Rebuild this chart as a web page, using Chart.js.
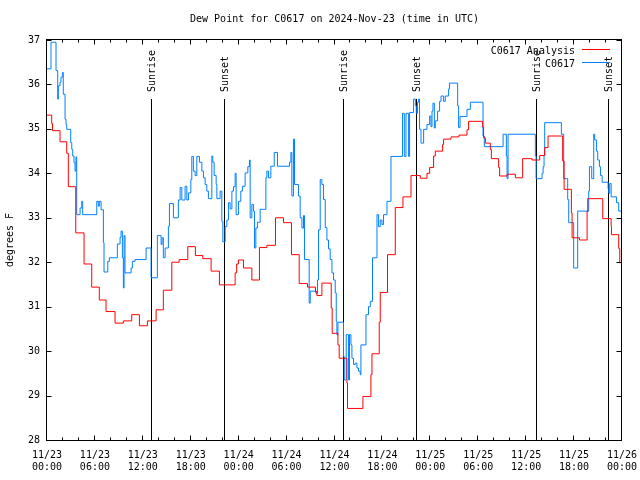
<!DOCTYPE html>
<html><head><meta charset="utf-8">
<script src="https://cdn.jsdelivr.net/npm/chart.js@4.4.1/dist/chart.umd.min.js"></script>
<style>html,body{margin:0;padding:0;background:#fff}canvas{display:block}</style>
</head><body>
<canvas id="c" width="640" height="480"></canvas>
<script>
// ---- data (hours since 2024-11-23 00:00 UTC) ----
const chartTitle = 'Dew Point for C0617 on 2024-Nov-23 (time in UTC)';
const yAxisTitle = 'degrees F';
const seriesNames = ['C0617 Analysis', 'C0617'];
const seriesColors = ['#ff0000', '#0080ff'];
const yMin = 28, yMax = 37;
const tickMonth = 11, tickStartDay = 23;
const sunEventHours = [13.07, 22.22, 37.12, 46.24, 61.18, 70.21];
const sunEventLabels = ['Sunrise', 'Sunset', 'Sunrise', 'Sunset', 'Sunrise', 'Sunset'];

const analysisHours = [0,0.59,0.69,1.63,2.47,2.67,3.60,4.64,5.60,6.55,7.39,8.52,9.56,10.61,11.57,12.57,13.66,14.57,15.63,16.54,17.63,18.58,19.51,20.55,21.59,23.56,23.75,23.97,24.60,25.65,26.60,27.53,28.61,29.61,30.61,31.58,32.62,33.62,33.80,34.42,35.59,35.71,36.43,36.59,37.56,37.63,39.56,40.56,40.69,41.60,41.73,42.64,43.61,44.57,45.58,46.74,47.58,47.91,48.41,48.62,49.54,49.66,50.59,51.59,52.59,52.79,54.55,54.67,54.89,55.51,55.64,56.55,56.68,57.61,58.65,59.56,60.74,61.69,62.32,62.74,64.57,64.75,65.66,65.75,66.67,67.63,67.71,69.59,70.64,70.68,71.59,71.72,72];
const analysisValues = [35.31,35.12,34.96,34.71,34.45,33.70,32.66,31.96,31.44,31.15,30.89,30.63,30.68,30.82,30.57,30.68,30.93,31.37,32.00,32.06,32.35,32.15,32.08,31.80,31.49,31.76,31.96,32.05,31.87,31.60,32.33,32.38,33.00,32.89,32.17,31.52,31.44,31.34,31.25,31.53,30.97,30.40,30.14,29.84,29.28,28.71,28.98,29.47,29.94,30.65,31.32,32.17,33.23,33.47,33.95,33.89,34.00,34.13,34.39,34.50,34.65,34.77,34.82,34.86,34.98,35.17,35.04,34.80,34.68,34.54,34.33,34.13,33.94,33.98,33.90,34.33,34.30,34.40,34.58,34.84,34.28,33.64,33.11,32.55,32.50,33.15,33.43,32.98,32.81,32.62,32.31,31.99,31.99];

const obsHours = [0,0.50,1.13,1.34,1.42,1.63,1.75,1.92,2.04,2.26,2.38,2.47,2.97,3.10,3.22,3.38,3.51,3.63,3.72,4.14,4.35,4.47,6.23,6.43,6.55,6.77,7.06,7.14,7.61,7.81,8.81,9.15,9.27,9.44,9.56,9.65,9.77,10.53,10.69,11.03,12.41,13.03,13.82,14.29,14.41,14.57,14.79,15.20,15.33,15.83,16.45,16.67,16.88,17.29,17.51,17.71,18.01,18.13,18.33,18.55,18.76,19.09,19.39,19.59,19.80,20.01,20.21,20.64,20.76,20.93,21.18,21.27,21.68,21.89,22.02,22.31,22.52,22.72,22.93,23.15,23.35,23.56,23.68,23.97,24.27,24.47,24.81,25.15,25.35,25.44,25.65,25.85,25.98,26.15,26.35,26.69,27.41,27.53,27.73,28.03,28.45,28.86,30.36,30.54,30.66,30.86,30.99,31.49,31.70,31.92,32.12,32.24,32.83,32.96,33.67,33.87,34.00,34.21,34.42,34.62,34.84,35.05,35.25,35.46,35.68,35.88,36.09,36.22,36.30,36.43,37.13,37.22,37.47,37.76,37.88,38.06,38.18,38.38,38.60,38.81,39.01,39.22,39.31,39.94,40.26,40.48,40.76,41.32,41.52,41.73,41.94,42.14,42.57,43.07,44.52,44.74,44.95,45.28,45.40,45.90,46.12,46.24,46.40,46.53,46.65,46.83,47.16,47.58,47.91,48.08,48.21,48.33,48.50,48.62,48.91,49.16,49.34,49.66,49.87,50.29,50.41,51.42,51.54,51.72,52.59,53.01,54.60,54.76,57.11,57.52,57.61,57.73,61.15,61.24,61.99,62.12,62.24,62.32,64.41,64.70,65.20,65.33,65.95,66.45,67.83,67.92,68.21,68.46,68.58,68.80,68.96,69.17,69.30,69.51,70.26,70.34,70.46,70.64,71.30,71.59,72];
const obsValues = [36.35,36.95,36.31,35.67,35.97,36.05,36.16,36.27,35.78,35.22,35.10,34.99,34.69,34.54,34.39,34.24,34.05,34.37,33.07,33.22,33.37,33.07,33.37,33.26,33.37,33.18,32.44,31.78,32.02,32.10,32.41,32.56,32.70,32.10,31.42,32.60,31.76,31.87,32.02,32.06,32.32,31.65,32.60,32.40,32.55,32.10,32.32,32.81,33.32,33.00,33.40,33.68,33.40,33.71,33.40,33.56,33.86,34.38,34.05,33.95,34.38,34.25,34.05,33.90,33.75,33.60,33.43,34.39,34.25,33.95,33.75,33.43,33.60,32.92,32.46,32.80,32.95,33.34,33.20,33.60,33.70,34.00,33.07,33.37,33.60,33.71,34.01,34.15,34.30,33.00,33.30,33.15,32.32,32.77,32.90,33.19,33.90,34.05,33.90,34.16,34.47,34.16,34.25,34.47,33.49,34.77,33.75,33.49,33.00,32.77,33.05,32.06,31.08,31.35,31.30,31.60,32.73,33.86,33.75,33.41,32.78,32.50,32.30,32.06,31.76,31.60,31.31,30.67,30.37,30.65,29.88,29.35,30.37,29.35,30.37,30.14,29.84,29.70,29.73,29.62,29.55,29.47,30.14,30.82,31.00,31.12,32.10,33.07,32.80,32.95,32.85,33.07,33.37,34.38,35.35,34.38,35.35,34.38,35.37,35.67,35.52,35.35,35.60,35.67,34.99,34.68,34.99,35.10,35.29,35.05,35.40,35.58,35.02,35.18,35.40,35.62,35.74,35.62,35.74,35.90,36.03,35.52,35.03,35.28,35.44,35.60,34.84,34.60,34.88,34.39,33.88,34.88,34.39,33.88,34.00,34.15,34.40,35.14,34.88,33.88,33.41,32.89,31.87,33.15,33.60,34.15,33.88,34.88,34.75,34.50,34.30,34.15,33.95,33.80,33.65,33.55,33.77,33.47,33.34,33.15,33.15];

// ---- build ----
const FONT = '"DejaVu Sans Mono", "Liberation Mono", monospace';
function toPoints(xs, ys) {
  const n = Math.min(xs.length, ys.length);
  const out = [];
  for (let i = 0; i < n; i++) out.push({ x: xs[i], y: ys[i] });
  return out;
}
function pad2(n) { return (n < 10 ? '0' : '') + n; }

const decor = {
  id: 'decor',
  beforeDatasetsDraw(chart) {
    const { ctx, chartArea: a, scales: { x } } = chart;
    ctx.save();
    ctx.strokeStyle = '#000';
    ctx.lineWidth = 1;
    ctx.fillStyle = '#000';
    ctx.font = '10px ' + FONT;
    for (let i = 0; i < sunEventHours.length; i++) {
      const px = Math.round(x.getPixelForValue(sunEventHours[i])) + 0.5;
      ctx.beginPath();
      ctx.moveTo(px, a.top + 59);
      ctx.lineTo(px, a.bottom);
      ctx.stroke();
      ctx.save();
      ctx.translate(px + 1, a.top + 52);
      ctx.rotate(-Math.PI / 2);
      ctx.textAlign = 'left';
      ctx.textBaseline = 'middle';
      ctx.fillText(sunEventLabels[i], 0, 0);
      ctx.restore();
    }
    ctx.restore();
  },
  afterDraw(chart) {
    const { ctx, chartArea: a, scales: { x, y } } = chart;
    ctx.save();
    ctx.strokeStyle = '#000';
    ctx.lineWidth = 1;
    const L = a.left - 0.5, R = a.right - 0.5, T = a.top - 0.5, B = a.bottom + 0.5;
    ctx.strokeRect(L, T, R - L, B - T);
    ctx.beginPath();
    for (let v = yMin; v <= yMax; v++) {
      const py = Math.round(y.getPixelForValue(v)) + 0.5;
      ctx.moveTo(L, py); ctx.lineTo(L + 5, py);
      ctx.moveTo(R, py); ctx.lineTo(R - 5, py);
    }
    for (let h = 0; h <= 72; h += 2) {
      const px = Math.round(x.getPixelForValue(h)) - 0.5;
      const len = (h % 6 === 0) ? 5 : 3;
      ctx.moveTo(px, B); ctx.lineTo(px, B - len);
      ctx.moveTo(px, T); ctx.lineTo(px, T + len);
    }
    ctx.stroke();
    ctx.fillStyle = '#000';
    ctx.font = '10px ' + FONT;
    ctx.textAlign = 'center';
    ctx.textBaseline = 'middle';
    ctx.fillText(chartTitle, (a.left + a.right) / 2, 19);
    ctx.save();
    ctx.translate(10, (a.top + a.bottom) / 2);
    ctx.rotate(-Math.PI / 2);
    ctx.fillText(yAxisTitle, 0, 0);
    ctx.restore();
    ctx.textAlign = 'right';
    for (let i = 0; i < seriesNames.length; i++) {
      const ly = a.top + 10 + i * 13;
      ctx.fillStyle = '#000';
      ctx.fillText(seriesNames[i], a.right - 47, ly + 1);
      ctx.strokeStyle = seriesColors[i];
      ctx.beginPath();
      ctx.moveTo(a.right - 40, ly - 0.5);
      ctx.lineTo(a.right - 12, ly - 0.5);
      ctx.stroke();
    }
    ctx.restore();
  }
};

new Chart(document.getElementById('c'), {
  type: 'line',
  data: {
    datasets: [
      { label: seriesNames[0], data: toPoints(analysisHours, analysisValues), borderColor: seriesColors[0], borderWidth: 1, stepped: true, pointRadius: 0, fill: false },
      { label: seriesNames[1], data: toPoints(obsHours, obsValues), borderColor: seriesColors[1], borderWidth: 1, stepped: true, pointRadius: 0, fill: false }
    ]
  },
  options: {
    responsive: false,
    animation: false,
    devicePixelRatio: 1,
    layout: { padding: { top: 40, right: 18, left: 0, bottom: 0 } },
    plugins: { legend: { display: false }, title: { display: false }, tooltip: { enabled: false } },
    scales: {
      x: {
        type: 'linear', min: 0, max: 72,
        grid: { display: false, drawTicks: false },
        border: { display: false },
        ticks: {
          stepSize: 6, autoSkip: false, maxRotation: 0, minRotation: 0, padding: 9,
          color: '#000', font: { family: FONT, size: 10, lineHeight: 1.2 },
          callback: (v) => {
            const d = tickStartDay + Math.floor(v / 24);
            return [tickMonth + '/' + d, pad2(v % 24) + ':00'];
          }
        },
        afterFit: (s) => { s.height = 40; s.paddingLeft = 0; s.paddingRight = 0; }
      },
      y: {
        min: yMin, max: yMax,
        grid: { display: false, drawTicks: false },
        border: { display: false },
        ticks: { stepSize: 1, padding: 7, color: '#000', font: { family: FONT, size: 10 } },
        afterFit: (s) => { s.width = 47; s.paddingTop = 0; s.paddingBottom = 0; }
      }
    }
  },
  plugins: [decor]
});
</script>
</body></html>
